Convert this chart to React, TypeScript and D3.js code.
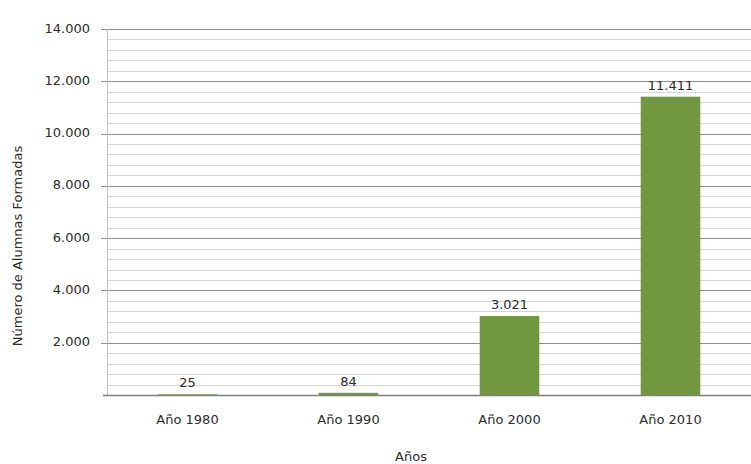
import React from "react";
import * as d3 from "d3";

const categories = ["Año 1980", "Año 1990", "Año 2000", "Año 2010"];
const values = [25, 84, 3021, 11411];
const valueLabels = ["25", "84", "3.021", "11.411"];
const yTicks = [2000, 4000, 6000, 8000, 10000, 12000, 14000];
const yTickLabels = ["2.000", "4.000", "6.000", "8.000", "10.000", "12.000", "14.000"];
const yTitle = "Número de Alumnas Formadas";
const xTitle = "Años";

const W = 751, H = 464;
const M = { left: 107, right: 0, top: 29, bottom: 395 };
const FONT = "'DejaVu Sans', Verdana, sans-serif";
const TXT = "#2b2b2b";

export default function App() {
  const x = d3.scaleBand<string>().domain(categories).range([M.left, W - M.right]).paddingInner(0.63).paddingOuter(0.315);
  const y = d3.scaleLinear().domain([0, 14000]).range([M.bottom, M.top]);
  const minor = d3.range(400, 14000, 400).filter((v) => v % 2000 !== 0);

  return (
    <svg width={W} height={H} style={{ position: "absolute", left: 0, top: 0, background: "#fff" }}>
      {minor.map((v) => (
        <line key={"m" + v} x1={M.left} x2={W} y1={Math.round(y(v)) + 0.5} y2={Math.round(y(v)) + 0.5} stroke="#d6d6d6" strokeWidth={1} />
      ))}
      {yTicks.map((v) => (
        <line key={"g" + v} x1={M.left - 6} x2={W} y1={Math.round(y(v)) + 0.5} y2={Math.round(y(v)) + 0.5} stroke="#8f8f8f" strokeWidth={1} />
      ))}
      <line x1={M.left + 0.5} x2={M.left + 0.5} y1={M.top} y2={M.bottom} stroke="#bfbfbf" />
      {categories.map((c, i) => (
        <rect key={c} x={x(c)} y={y(values[i])} width={x.bandwidth()} height={M.bottom - y(values[i])} fill="#71983F" />
      ))}
      <line x1={M.left - 4} x2={W} y1={M.bottom + 0.5} y2={M.bottom + 0.5} stroke="#7f7f7f" strokeWidth={1.5} />
      {categories.map((c, i) => (
        <text key={"v" + c} x={(x(c) as number) + x.bandwidth() / 2} y={y(values[i]) - 7} textAnchor="middle" fontFamily={FONT} fontSize={13} fill={TXT}>
          {valueLabels[i]}
        </text>
      ))}
      {yTicks.map((v, i) => (
        <text key={"t" + v} x={90} y={y(v) + 3.5} textAnchor="end" fontFamily={FONT} fontSize={13} fill={TXT}>
          {yTickLabels[i]}
        </text>
      ))}
      {categories.map((c) => (
        <text key={"c" + c} x={(x(c) as number) + x.bandwidth() / 2} y={424} textAnchor="middle" fontFamily={FONT} fontSize={13} fill={TXT}>
          {c}
        </text>
      ))}
      <text x={411} y={461} textAnchor="middle" fontFamily={FONT} fontSize={13} fill={TXT}>{xTitle}</text>
      <text transform={`translate(22,${246}) rotate(-90)`} textAnchor="middle" fontFamily={FONT} fontSize={13} fill={TXT}>{yTitle}</text>
    </svg>
  );
}
